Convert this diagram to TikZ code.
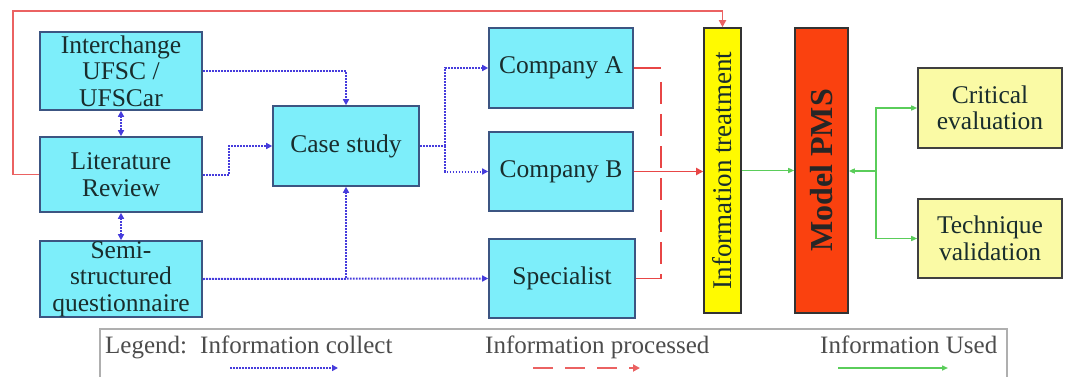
\documentclass[tikz,border=0pt]{standalone}
\usepackage{fontspec}
\setmainfont{Liberation Serif}
\usetikzlibrary{arrows.meta}
\definecolor{boxcyan}{RGB}{125,238,250}
\definecolor{boxedge}{RGB}{60,85,130}
\definecolor{infoyellow}{RGB}{255,250,0}
\definecolor{pmsred}{RGB}{250,65,15}
\definecolor{paleyellow}{RGB}{250,250,165}
\definecolor{txt}{RGB}{25,45,45}
\definecolor{colblue}{RGB}{70,60,220}
\definecolor{procred}{RGB}{232,70,70}
\definecolor{usedgreen}{RGB}{90,205,90}
\definecolor{leggray}{RGB}{175,175,175}
\tikzset{
  bx/.style={draw=boxedge, line width=1.6pt, fill=boxcyan, text=txt, align=center,
    font=\fontsize{25.5}{26.5}\selectfont, inner sep=0pt},
  ybx/.style={bx, fill=paleyellow, draw=black!75},
  collect/.style={draw=colblue, line width=2pt, dash pattern=on 1.8pt off 1.2pt,
    -{Triangle[length=6pt,width=6pt]}},
  collect2/.style={collect, {Triangle[length=6pt,width=6pt]}-{Triangle[length=6pt,width=6pt]}},
  collectn/.style={draw=colblue, line width=2pt, dash pattern=on 1.8pt off 1.2pt},
  proc/.style={draw=procred, line width=1.8pt, -{Triangle[length=7pt,width=7pt]}},
  procdash/.style={draw=procred, line width=1.8pt, dash pattern=on 22pt off 10pt},
  used/.style={draw=usedgreen, line width=1.4pt, -{Triangle[length=6pt,width=5pt]}},
  legtext/.style={text=black!70, font=\fontsize{25}{26}\selectfont, anchor=base west, inner sep=0pt}
}
\begin{document}
\begin{tikzpicture}[x=1pt,y=-1pt]
\useasboundingbox (0,0) rectangle (1073,377);
% boxes
\node[bx, minimum width=162pt, minimum height=78pt] (inter) at (121,71) {Interchange\\UFSC /\\UFSCar};
\node[bx, minimum width=162pt, minimum height=75pt] (lit) at (121,174.5) {Literature\\Review};
\node[bx, minimum width=162pt, minimum height=76pt] (semi) at (121,279) {Semi-\\structured\\questionnaire};
\node[bx, minimum width=146pt, minimum height=80pt] (case) at (346,146) {Case study};
\node[bx, minimum width=144pt, minimum height=80pt] (compA) at (561,68) {Company A};
\node[bx, minimum width=144pt, minimum height=79pt] (compB) at (561,171.5) {Company B};
\node[bx, minimum width=146pt, minimum height=79pt] (spec) at (562,278.5) {Specialist};
\node[bx, draw=black!80, fill=infoyellow, minimum width=37pt, minimum height=285pt] (info) at (722.5,170.5) {};
\node[rotate=90, text=txt, font=\fontsize{27}{28}\selectfont, inner sep=0pt] (infot) at (info.center) {Information treatment};
\node[bx, draw=black!80, fill=pmsred, minimum width=53pt, minimum height=285pt] (pms) at (821.5,170.5) {};
\node[rotate=90, text=black!85, font=\fontsize{32}{34}\selectfont\bfseries, inner sep=0pt] (pmst) at (pms.center) {Model PMS};
\node[ybx, minimum width=144pt, minimum height=80pt] (crit) at (990,108) {Critical\\evaluation};
\node[ybx, minimum width=144pt, minimum height=79pt] (tech) at (990,238.5) {Technique\\validation};
% collect connectors
\draw[collect] (inter.east |- 0,71) -| (case.north);
\draw[collect] (lit.east) -- (229,174.5) |- (case.west);
\draw[collect] (semi.east) -| (case.south);
\draw[collect] (semi.east) -- (spec.west);
\draw[collect2] (inter.south) -- (lit.north);
\draw[collect2] (lit.south) -- (semi.north);
\coordinate (split) at (445,146);
\draw[collectn] (case.east) -- (split);
\draw[collect] (split) |- (compA.west);
\draw[collect] (split) |- (compB.west);
% processed connectors
\coordinate (rA) at (661,68);
\coordinate (rS) at (661,278.5);
\draw[procred, line width=1.8pt] (compA.east) -- (rA);
\draw[procred, line width=1.8pt] (spec.east) -- (rS);
\draw[procdash] (661,82) -- (rS);
\draw[proc] (compB.east) -- (compB.east -| info.west);
\coordinate (tl) at (13,11);
\draw[proc, draw=procred!85] (lit.west) -| (tl) -| (info.north);
% used connectors
\draw[used] (info.east) -- (info.east -| pms.west);
\coordinate (gsplit) at (876,171);
\draw[used] (gsplit) -- (pms.east |- gsplit);
\draw[used] (gsplit) |- (crit.west);
\draw[used] (gsplit) |- (tech.west);
% legend
\draw[leggray, line width=1.8pt] (100,390) -- (100,329) -- (1007,329) -- (1007,390);
\node[legtext] (lg) at (105,353) {Legend:};
\node[legtext] (lc) at (200,353) {Information collect};
\node[legtext] (lp) at (485,353) {Information processed};
\node[legtext] (lu) at (820,353) {Information Used};
\coordinate (b1) at (230,368); \coordinate (b2) at (338,368);
\draw[collect] (b1) -- (b2);
\coordinate (r1) at (533,368); \coordinate (r2) at (640,368);
\draw[procred!85, line width=1.8pt, dash pattern=on 20pt off 12pt, -{Triangle[length=7pt,width=7pt]}] (r1) -- (r2);
\coordinate (g1) at (838,368); \coordinate (g2) at (948,368);
\draw[used] (g1) -- (g2);
\end{tikzpicture}
\end{document}
